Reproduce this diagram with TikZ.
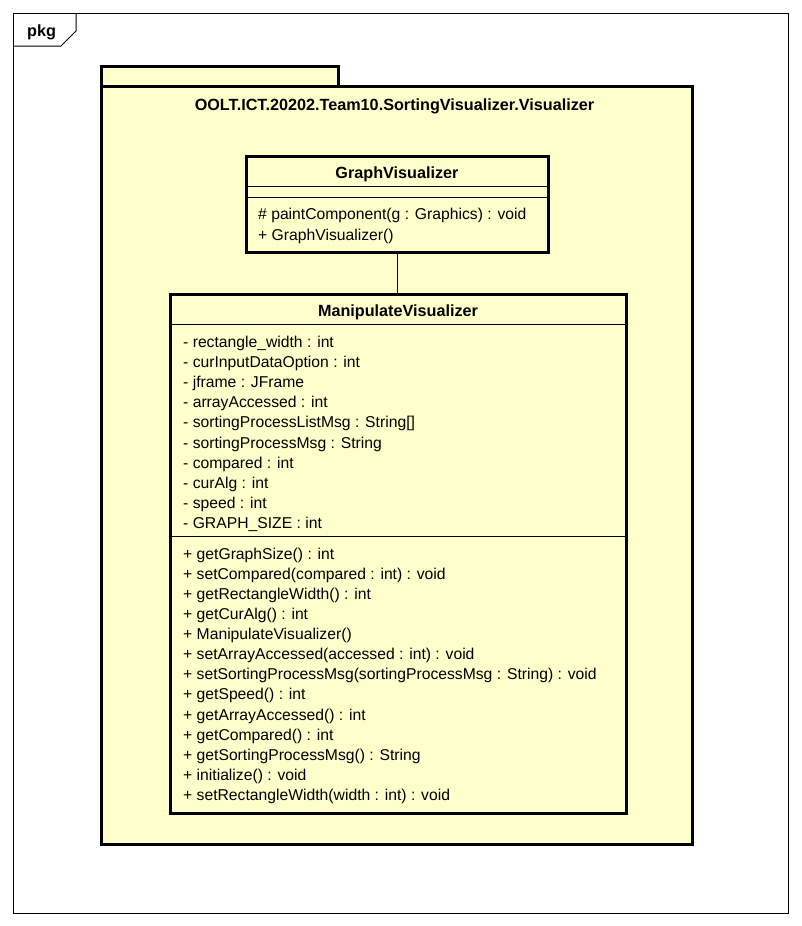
\documentclass[tikz,border=0pt]{standalone}
\usepackage{fontspec}
\setmainfont{Liberation Sans}
\definecolor{umlfill}{HTML}{FFFFCC}
\begin{document}
\begin{tikzpicture}[x=1pt,y=-1pt,
  txt/.style={anchor=base west,inner sep=0pt,font=\fontsize{15.7}{18}\selectfont},
  ttl/.style={anchor=base,inner sep=0pt,font=\fontsize{16.2}{18}\selectfont\bfseries},
  classbox/.style={draw=black,line width=3pt,fill=umlfill,rectangle,inner sep=0pt},
  thin/.style={line width=1pt}]
\useasboundingbox (0,0) rectangle (801,926);
\fill[white] (0,0) rectangle (801,926);
% outer frame
\draw[thin] (13,13) rectangle (788,913);
\draw[thin] (13,46) -- (61,46) -- (76,31) -- (76,13);
\node[ttl,anchor=base west] (pkg) at (27,36) {pkg};
% package
\draw[line width=3pt,fill=umlfill] (101,86) rectangle (338,66);
\draw[line width=3pt,fill=umlfill] (101,86) rectangle (692,844);
\node[ttl] (pkgname) at (394.5,110) {OOLT.ICT.20202.Team10.SortingVisualizer.Visualizer};
% GraphVisualizer
\node[classbox,minimum width=302pt,minimum height=96pt] (gv) at (397,204) {};
\draw[thin] (gv.west |- 0,186.5) -- (gv.east |- 0,186.5);
\draw[thin] (gv.west |- 0,197) -- (gv.east |- 0,197);
\node[ttl] (gvname) at (397,178.5) {GraphVisualizer};
\node[txt] (gvo1) at (258,219) {\# paintComponent(g : Graphics) : void};
\node[txt] (gvo2) at (258,240) {+ GraphVisualizer()};
% ManipulateVisualizer
\node[classbox,minimum width=456pt,minimum height=519pt] (mv) at (398,553.5) {};
\draw[thin] (mv.west |- 0,324) -- (mv.east |- 0,324);
\draw[thin] (mv.west |- 0,536) -- (mv.east |- 0,536);
\node[ttl] (mvname) at (398,316.5) {ManipulateVisualizer};
\foreach \t [count=\i from 0] in {
  - rectangle\_width : int,
  - curInputDataOption : int,
  - jframe : JFrame,
  - arrayAccessed : int,
  - sortingProcessListMsg : String[],
  - sortingProcessMsg : String,
  - compared : int,
  - curAlg : int,
  - speed : int,
  - GRAPH\_SIZE : int}
  \node[txt] (mva\i) at (183,347+20.2*\i) {\t};
\foreach \t [count=\i from 0] in {
  + getGraphSize() : int,
  + setCompared(compared : int) : void,
  + getRectangleWidth() : int,
  + getCurAlg() : int,
  + ManipulateVisualizer(),
  + setArrayAccessed(accessed : int) : void,
  + setSortingProcessMsg(sortingProcessMsg : String) : void,
  + getSpeed() : int,
  + getArrayAccessed() : int,
  + getCompared() : int,
  + getSortingProcessMsg() : String,
  + initialize() : void,
  + setRectangleWidth(width : int) : void}
  \node[txt] (mvm\i) at (183,559+20.14*\i) {\t};
% connector
\draw[thin] (gv.south) -- (gv.south |- mv.north);
\end{tikzpicture}
\end{document}
